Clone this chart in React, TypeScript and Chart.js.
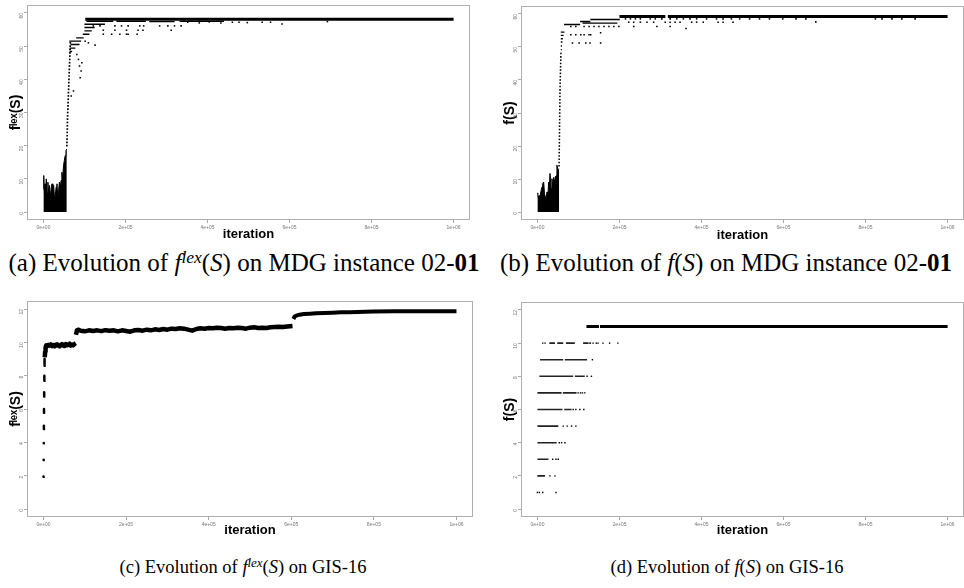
import React, { useEffect, useRef } from 'react';
import { Chart, registerables } from 'chart.js';
Chart.register(...registerables);

// ---------- shared axes ----------
const xTicks = [0, 200000, 400000, 600000, 800000, 1000000];
const xTickLabels = ['0e+00', '2e+05', '4e+05', '6e+05', '8e+05', '1e+06'];
const yTicksMDG = [0, 10, 20, 30, 40, 50, 60];
const yTicksGIS = [0, 2, 4, 6, 8, 10, 12];

// ---------- (a) f^lex(S), MDG 02-01 ----------
const aBlobX = [0, 800, 2500, 4000, 5500, 7000, 9000, 11000, 13000, 15000, 17000, 19000, 21000, 23000, 25000, 27000, 29000, 31000, 33000, 35000, 37000, 39000, 41000, 43000, 45000, 47000, 49000, 51000, 53000, 55000, 57000];
const aBlobY = [7, 11, 6, 8.5, 5, 10, 6, 9, 5, 8, 4.5, 7, 8.5, 5, 8, 4.5, 5, 7.5, 8.5, 5, 6.5, 9, 7, 9.5, 12, 10, 14, 15.5, 17, 18.5, 19];
const aTrailX = [57200, 57400, 57600, 57800, 58000, 58200, 58400, 58600, 58800, 59000, 59300, 59600, 59900, 60200, 60500, 60800, 61100, 61400, 61700, 62000, 62300, 62600, 62900, 63200, 63500, 63800, 64100, 64400, 64700, 65000, 65300, 65600];
const aTrailY = [20, 21, 22, 23, 24, 25, 26, 27, 28, 29, 30, 31, 32, 33, 34, 35, 36, 37, 38, 39, 40, 41, 42, 43, 44, 45, 46, 47, 48, 49, 50, 51];
const aMainStart = [102000];
const aMainEnd = [1000000];
const aMainY = [58.1];
const aBandStart = [105000, 178000, 258000, 332000, 100000, 100000, 100000, 96000, 80000, 63000, 66000, 64000, 64000];
const aBandEnd = [170000, 250000, 320000, 440000, 150000, 125000, 118000, 112000, 98000, 92000, 88000, 78000, 70000];
const aBandY = [57.5, 57.5, 57.4, 57.5, 56.6, 55.6, 54.6, 53.6, 52.5, 51.5, 50.5, 49.4, 48.4];
const aDotX = [351800, 380000, 404300, 432600, 460700, 476900, 497100, 533400, 553700, 692400, 581800,
  121800, 138000, 174300, 190500, 206500, 234800, 244500, 283300, 303400, 319600, 335800,
  146000, 174300, 202600, 230700, 242800, 311600,
  146000, 166300, 186400, 202600, 206500, 228400,
  101700, 109700, 125900,
  67800, 73400, 89600, 92000, 93700, 88000, 81600, 85500];
const aDotY = [57.2, 57.0, 57.3, 57.0, 57.2, 57.2, 57.1, 57.2, 57.2, 57.4, 56.7,
  56.1, 56.1, 56.1, 56.1, 56.1, 56.1, 56.1, 56.1, 56.1, 56.1, 56.1,
  54.8, 54.8, 54.8, 54.8, 54.8, 54.8,
  53.6, 53.6, 53.6, 53.6, 53.6, 53.6,
  51.5, 51.0, 50.3,
  35, 36.5, 40.5, 42.5, 45, 44, 47.5, 46];

// ---------- (b) f(S), MDG 02-01 ----------
const bBlobX = [0, 800, 2500, 4000, 5600, 7500, 9500, 11300, 12900, 15300, 17300, 19400, 21000, 23400, 25400, 27400, 29400, 30700, 33500, 35500, 37100, 39500, 41500, 43600, 45600, 47600, 49200, 51600, 53000];
const bBlobY = [5.8, 5.6, 4.2, 5, 3.6, 5.5, 6.8, 7.6, 8.6, 9.1, 5.5, 4.6, 3.6, 6.1, 4.5, 9.1, 8, 11.7, 7, 10.1, 7.6, 10.5, 9, 10.6, 11, 14.2, 13.2, 13, 13];
const bTrailX = [52800, 52900, 53000, 53100, 53200, 53300, 53400, 53500, 53600, 53700, 53800, 53900, 54000, 54100, 54200, 54300, 54400, 54500, 54600, 54700, 54800, 54900, 55000, 55100, 55300, 55500, 55700, 55900, 56100, 56300, 56500, 56700, 56900, 57100, 57300];
const bTrailY = [14, 15, 16, 17, 18, 19, 20, 21, 22, 23, 24, 25, 26, 27, 28, 29, 30, 31, 32, 33, 34, 35, 36, 37, 38, 39, 40, 41, 42, 43, 44, 45, 46, 47, 48];
const bMainStart = [200000, 318000];
const bMainEnd = [312000, 1000000];
const bMainY = [59.2, 59.2];
const bBandStart = [65000, 104000, 129000, 110000, 57000, 57000, 57000, 57000, 57000, 57000];
const bBandEnd = [104000, 129000, 201000, 195000, 66000, 64000, 62000, 61000, 60000, 59500];
const bBandY = [56.8, 57.7, 58.3, 57.2, 54.5, 53.5, 52.5, 51.5, 50.3, 49.2];
const bDotX = [214700, 226800, 238900, 251000, 275200, 287300, 303400, 323600, 339700, 355900, 372000, 388200, 412400, 436600, 452700, 472900, 493100, 517300, 541500, 565700, 598000, 630300, 654500, 678700, 824000, 840100, 864300, 888500, 920800,
  222700, 234800, 251000, 267100, 283300, 311500, 323600, 335700, 347800, 376000, 388200, 404300, 440600, 452700, 476900,
  81500, 93600, 113800, 125900, 138000, 150100, 162200, 174300, 186400, 198500, 234800, 291300, 323600, 362300,
  81500, 93600, 105700, 113800, 125900, 129900, 154100,
  85500, 101700, 117800, 128300, 154100];
const bDotY = [58.5, 58.5, 58.5, 58.5, 58.5, 58.5, 58.5, 58.5, 58.5, 58.5, 58.5, 58.5, 58.5, 58.5, 58.5, 58.5, 58.5, 58.5, 58.5, 58.5, 58.5, 58.5, 58.5, 57.6, 58.5, 58.5, 58.5, 58.5, 58.5,
  57.5, 57.5, 57.5, 57.5, 57.5, 57.5, 57.5, 57.5, 57.5, 57.5, 57.5, 57.5, 57.5, 57.5, 57.5,
  56.2, 56.2, 56.2, 56.2, 56.2, 56.2, 56.2, 56.2, 56.2, 56.2, 56.2, 56.2, 56.2, 55.6,
  53.7, 53.7, 53.7, 53.7, 53.7, 53.7, 54.3,
  51.2, 51.2, 51.2, 51.2, 51.2];

// ---------- (c) f^lex(S), GIS-16 ----------
const cDashX = [0, 300, 600, 900, 1200, 1600, 2000, 2500];
const cDashLo = [1.93, 2.94, 3.94, 4.8, 5.78, 6.75, 7.7, 8.6];
const cDashHi = [1.95, 2.96, 3.96, 5.0, 6.0, 7.0, 8.0, 9.0];
const cBand1X = [3000, 4000, 5000, 6500, 9000, 12000, 15000, 18000, 21000, 24000, 27000, 30000, 33000, 36000, 39000, 42000, 45000, 48000, 51000, 54000, 57000, 60000, 63000, 66000, 69000, 72000, 75000, 78000];
const cBand1Y = [9.1, 9.45, 9.7, 9.82, 9.78, 9.85, 9.8, 9.87, 9.78, 9.84, 9.76, 9.86, 9.88, 9.8, 9.75, 9.85, 9.9, 9.8, 9.78, 9.9, 9.82, 9.86, 9.92, 9.8, 9.87, 9.82, 9.9, 9.95];
const cBand2X = [78500, 81000, 85000, 90000, 100000, 110000, 120000, 130000, 140000, 150000, 160000, 170000, 180000, 190000, 200000, 210000, 220000, 230000, 240000, 250000, 260000, 270000, 280000, 290000, 300000, 310000, 320000, 330000, 340000, 350000, 360000, 370000, 380000, 390000, 400000, 410000, 420000, 430000, 440000, 450000, 460000, 470000, 480000, 490000, 500000, 510000, 520000, 530000, 540000, 550000, 560000, 570000, 580000, 590000, 603000];
const cBand2Y = [10.45, 10.72, 10.76, 10.7, 10.66, 10.72, 10.68, 10.72, 10.67, 10.73, 10.69, 10.72, 10.66, 10.72, 10.68, 10.64, 10.72, 10.74, 10.7, 10.76, 10.72, 10.78, 10.74, 10.8, 10.76, 10.82, 10.8, 10.84, 10.82, 10.76, 10.7, 10.8, 10.84, 10.82, 10.86, 10.84, 10.88, 10.86, 10.82, 10.86, 10.84, 10.88, 10.86, 10.82, 10.88, 10.9, 10.86, 10.88, 10.86, 10.9, 10.92, 10.94, 10.92, 10.95, 10.98];
const cBand3X = [605000, 608000, 612000, 620000, 630000, 645000, 660000, 680000, 700000, 720000, 740000, 760000, 780000, 800000, 850000, 900000, 950000, 1000000];
const cBand3Y = [11.4, 11.55, 11.6, 11.66, 11.7, 11.72, 11.74, 11.76, 11.78, 11.8, 11.81, 11.82, 11.84, 11.85, 11.86, 11.86, 11.86, 11.86];

// ---------- (d) f(S), GIS-16 ----------
const dMainStart = [119600, 152500];
const dMainEnd = [150000, 1000000];
const dMainY = [11, 11];
const dSegStart = [29000, 48400, 69500, 111400, 6500, 67000, 4800, 91300, 0, 62200, 0, 65400, 0, 0, 0, 0];
const dSegEnd = [42800, 63000, 91300, 123500, 63000, 121000, 87100, 115500, 59000, 95400, 61000, 83300, 51000, 47000, 27000, 18600];
const dSegY = [10, 10, 10, 10, 9, 9, 8, 8, 7, 7, 6, 6, 5, 4, 3, 2];
const dDotX = [13000, 18600, 126000, 129200, 135700, 143700, 147800, 159900, 176000, 196200,
  134000, 121100, 131700,
  99300, 105000, 109800, 115500,
  87200, 93700, 103400, 113100,
  63000, 72700, 83200, 93700,
  53300, 59000, 67000,
  37200, 45300, 50900,
  30700, 42800,
  0, 4800, 13000, 45300];
const dDotY = [10, 10, 10, 10, 10, 10, 10, 10, 10, 10,
  9, 8, 8,
  7, 7, 7, 7,
  6, 6, 6, 6,
  5, 5, 5, 5,
  4, 4, 4,
  3, 3, 3,
  2, 2,
  1, 1, 1, 1];

// ---------- helpers ----------
const pts = (xs: number[], ys: number[]) => xs.map((x, i) => ({ x, y: ys[i] }));
const hsegs = (x0: number[], x1: number[], ys: number[]) =>
  x0.flatMap((x, i) => [{ x, y: ys[i] }, { x: x1[i], y: ys[i] }, { x: x1[i], y: null as any }]);
const vsegs = (xs: number[], lo: number[], hi: number[]) =>
  xs.flatMap((x, i) => [{ x, y: lo[i] }, { x: x + 1, y: hi[i] }, { x: x + 1, y: null as any }]);

const lineDs = (data: any[], width: number, extra: any = {}) => ({
  type: 'line', data, borderColor: '#000', backgroundColor: '#000', borderWidth: width,
  pointRadius: 0, tension: 0, spanGaps: false, fill: false, ...extra,
});
const dotDs = (data: any[], r = 1.1) => ({
  type: 'scatter', data, pointStyle: 'rect', pointRadius: r, borderWidth: 0,
  backgroundColor: '#000', borderColor: '#000',
});

const framePlugin = {
  id: 'frame',
  beforeDraw(chart: any) {
    const { ctx } = chart;
    ctx.save();
    ctx.fillStyle = '#fff';
    ctx.fillRect(0, 0, chart.width, chart.height);
    ctx.restore();
  },
  afterDraw(chart: any) {
    const { ctx, chartArea: a } = chart;
    ctx.save();
    ctx.strokeStyle = '#b0b0b0';
    ctx.lineWidth = 1;
    ctx.strokeRect(Math.round(a.left) + 0.5, Math.round(a.top) + 0.5, Math.round(a.right - a.left) - 1, Math.round(a.bottom - a.top) - 1);
    ctx.restore();
  },
};

type PanelSpec = {
  datasets: any[];
  yMin: number; yMax: number; yTicks: number[]; yTitle: string;
  xAxisH: number;
};

function makeConfig(p: PanelSpec): any {
  const tickFont = { size: 5, family: 'Liberation Sans' };
  return {
    type: 'scatter',
    data: { datasets: p.datasets },
    options: {
      animation: false, responsive: false, maintainAspectRatio: false, events: [],
      layout: { padding: { top: 4, right: 1, left: 0, bottom: 0 } },
      plugins: { legend: { display: false }, tooltip: { enabled: false } },
      scales: {
        x: {
          type: 'linear', min: -40000, max: 1040000,
          afterBuildTicks: (s: any) => { s.ticks = xTicks.map(v => ({ value: v })); },
          afterFit: (s: any) => { s.height = p.xAxisH; },
          ticks: {
            autoSkip: false, maxRotation: 0, minRotation: 0, font: tickFont, color: '#777', padding: 2,
            callback: (v: number) => { const i = xTicks.indexOf(v); return i >= 0 ? xTickLabels[i] : ''; },
          },
          grid: { drawOnChartArea: false, drawTicks: true, tickLength: 3, color: '#aaa' },
          border: { display: false },
          title: { display: true, text: 'iteration', color: '#000', font: { size: 13, weight: 'bold', family: 'Liberation Sans' }, padding: { top: 0, bottom: 4 } },
        },
        y: {
          type: 'linear', min: p.yMin, max: p.yMax,
          afterBuildTicks: (s: any) => { s.ticks = p.yTicks.map(v => ({ value: v })); },
          afterFit: (s: any) => { s.width = 27; },
          ticks: { autoSkip: false, minRotation: 90, maxRotation: 90, font: tickFont, color: '#777', padding: 2,
            callback: (v: number) => String(v) },
          grid: { drawOnChartArea: false, drawTicks: true, tickLength: 3, color: '#aaa' },
          border: { display: false },
          title: { display: true, text: p.yTitle, color: '#000', font: { size: 14, weight: 'bold', family: 'Liberation Sans' }, padding: { top: 8, bottom: 0 } },
        },
      },
    },
    plugins: [framePlugin],
  };
}

function Panel({ left, top, width, height, spec }: { left: number; top: number; width: number; height: number; spec: PanelSpec }) {
  const ref = useRef<HTMLCanvasElement>(null);
  useEffect(() => {
    if (!ref.current) return;
    const chart = new Chart(ref.current, makeConfig(spec));
    return () => chart.destroy();
  }, []);
  return (
    <canvas ref={ref} width={width} height={height}
      style={{ position: 'absolute', left, top, width, height }} />
  );
}

const specA: PanelSpec = {
  yMin: -2.4, yMax: 62.4, yTicks: yTicksMDG, yTitle: 'fˡᵉˣ(S)', xAxisH: 26,
  datasets: [
    lineDs(pts(aBlobX, aBlobY), 1, { fill: 'origin' }),
    dotDs(pts(aTrailX, aTrailY), 1.2),
    lineDs(hsegs(aMainStart, aMainEnd, aMainY), 3),
    lineDs(hsegs(aBandStart, aBandEnd, aBandY), 1.4),
    dotDs(pts(aDotX, aDotY), 1.1),
  ],
};
const specB: PanelSpec = {
  yMin: -2.4, yMax: 62.4, yTicks: yTicksMDG, yTitle: 'f(S)', xAxisH: 27,
  datasets: [
    lineDs(pts(bBlobX, bBlobY), 1, { fill: 'origin' }),
    dotDs(pts(bTrailX, bTrailY), 1.1),
    lineDs(hsegs(bMainStart, bMainEnd, bMainY), 3),
    lineDs(hsegs(bBandStart, bBandEnd, bBandY), 1.4),
    dotDs(pts(bDotX, bDotY), 1.1),
  ],
};
const specC: PanelSpec = {
  yMin: -0.48, yMax: 12.48, yTicks: yTicksGIS, yTitle: 'fˡᵉˣ(S)', xAxisH: 25,
  datasets: [
    lineDs(vsegs(cDashX, cDashLo, cDashHi), 2.5, { borderCapStyle: 'round' }),
    lineDs(pts(cBand1X, cBand1Y), 4.5, { borderJoinStyle: 'round' }),
    lineDs(pts(cBand2X, cBand2Y), 4.5, { borderJoinStyle: 'round' }),
    lineDs(pts(cBand3X, cBand3Y), 4, { borderJoinStyle: 'round' }),
  ],
};
const specD: PanelSpec = {
  yMin: -0.48, yMax: 12.48, yTicks: yTicksGIS, yTitle: 'f(S)', xAxisH: 25,
  datasets: [
    lineDs(hsegs(dMainStart, dMainEnd, dMainY), 3),
    lineDs(hsegs(dSegStart, dSegEnd, dSegY), 1.6, { borderColor: '#222' }),
    dotDs(pts(dDotX, dDotY), 1.0),
  ],
};

const capBase: React.CSSProperties = {
  position: 'absolute', transform: 'translate(-50%, -50%)', whiteSpace: 'nowrap',
  fontFamily: '"Liberation Serif", serif', color: '#000', lineHeight: 1,
};
const sup: React.CSSProperties = { fontSize: '70%', position: 'relative', top: '-0.45em', fontStyle: 'italic' };

export default function App() {
  return (
    <div style={{ position: 'fixed', left: 0, top: 0, width: 964, height: 588, background: '#fff', overflow: 'hidden' }}>
      <Panel left={0} top={0} width={474} height={246} spec={specA} />
      <Panel left={494} top={1} width={474} height={246} spec={specB} />
      <Panel left={0} top={296} width={474} height={246} spec={specC} />
      <Panel left={494} top={297} width={474} height={245} spec={specD} />
      <div style={{ ...capBase, left: 244, top: 262, fontSize: 25 }}>
        (a) Evolution of <i>f</i><span style={sup}>lex</span>(<i>S</i>) on MDG instance 02-<b>01</b>
      </div>
      <div style={{ ...capBase, left: 726, top: 262, fontSize: 25 }}>
        (b) Evolution of <i>f</i>(<i>S</i>) on MDG instance 02-<b>01</b>
      </div>
      <div style={{ ...capBase, left: 243, top: 567, fontSize: 18.5 }}>
        (c) Evolution of <i>f</i><span style={sup}>lex</span>(<i>S</i>) on GIS-16
      </div>
      <div style={{ ...capBase, left: 727, top: 567, fontSize: 18.5 }}>
        (d) Evolution of <i>f</i>(<i>S</i>) on GIS-16
      </div>
    </div>
  );
}
